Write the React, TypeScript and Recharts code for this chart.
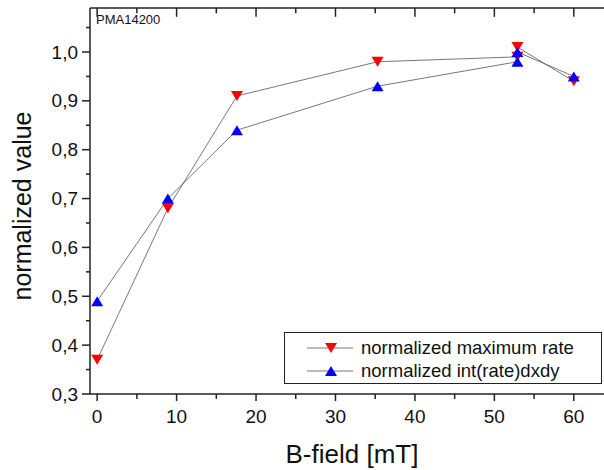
import { ScatterChart, Scatter, XAxis, YAxis, Legend, Customized, ReferenceLine } from "recharts";

const bField = [0, 8.9, 17.6, 35.3, 52.9, 52.9, 60];
const maxRate = [0.37, 0.68, 0.91, 0.98, 0.99, 1.01, 0.94];
const intRate = [0.49, 0.7, 0.84, 0.93, 0.98, 1.0, 0.95];

const xTicks = [0, 5, 10, 15, 20, 25, 30, 35, 40, 45, 50, 55, 60];
const xMajor = [0, 10, 20, 30, 40, 50, 60];
const yTicks = [0.3, 0.35, 0.4, 0.45, 0.5, 0.55, 0.6, 0.65, 0.7, 0.75, 0.8, 0.85, 0.9, 0.95, 1.0, 1.05];
const yMajor = [0.3, 0.4, 0.5, 0.6, 0.7, 0.8, 0.9, 1.0];

const maxData = bField.map((b, i) => ({ b, v: maxRate[i] }));
const intData = bField.map((b, i) => ({ b, v: intRate[i] }));

const FONT = "'Liberation Sans', Arial, sans-serif";
const AXIS = "#222";
const LINE = "#555";
const PLOT_TOP = 8;
const Y_MAX = 1.09;

const isMajor = (list: number[], v: number) => list.some((m) => Math.abs(m - v) < 1e-6);

const DownTri = (p: any) => {
  const { cx, cy } = p;
  if (cx == null || cy == null) return null;
  return <polygon points={`${cx - 6},${cy - 5} ${cx + 6},${cy - 5} ${cx},${cy + 5}`} fill="#ff0000" />;
};

const UpTri = (p: any) => {
  const { cx, cy } = p;
  if (cx == null || cy == null) return null;
  return <polygon points={`${cx - 6},${cy + 5} ${cx + 6},${cy + 5} ${cx},${cy - 5}`} fill="#0000ff" />;
};

const BottomTick = (p: any) => {
  const { x, y, payload } = p;
  const major = isMajor(xMajor, payload.value);
  return (
    <g>
      <line x1={x} x2={x} y1={y} y2={y + (major ? 7 : 5)} stroke={AXIS} strokeWidth={1.5} />
      {major && (
        <text x={x} y={y + 29} textAnchor="middle" fontSize={19} fontFamily={FONT} fill="#111">
          {payload.value}
        </text>
      )}
    </g>
  );
};

const LeftTick = (p: any) => {
  const { x, y, payload } = p;
  const major = isMajor(yMajor, payload.value);
  return (
    <g>
      <line x1={x - (major ? 8 : 4)} x2={x} y1={y} y2={y} stroke={AXIS} strokeWidth={1.5} />
      {major && (
        <text x={x - 12} y={y} dy="0.35em" textAnchor="end" fontSize={19} fontFamily={FONT} fill="#111">
          {payload.value.toFixed(1).replace(".", ",")}
        </text>
      )}
    </g>
  );
};

const LegendBox = () => (
  <div
    style={{
      width: 318,
      height: 52,
      border: "1px solid #222",
      background: "#fff",
      fontFamily: FONT,
      fontSize: 18.5,
      color: "#111",
      boxSizing: "border-box",
    }}
  >
    {[
      { label: "normalized maximum rate", Icon: DownTri },
      { label: "normalized int(rate)dxdy", Icon: UpTri },
    ].map(({ label, Icon }, i) => (
      <div key={label} style={{ display: "flex", alignItems: "center", height: 23, marginTop: i === 0 ? 3 : 0 }}>
        <svg width={76} height={22}>
          <line x1={22} x2={68} y1={11} y2={11} stroke={LINE} strokeWidth={0.8} />
          <Icon cx={46} cy={11} />
        </svg>
        <span>{label}</span>
      </div>
    ))}
  </div>
);

const Titles = () => (
  <g fontFamily={FONT} fill="#111">
    <text x={96} y={24} fontSize={13}>PMA14200</text>
    <text x={352} y={463} fontSize={26} textAnchor="middle">B-field [mT]</text>
    <text x={22} y={206} fontSize={25} textAnchor="middle" dy="0.35em" transform="rotate(-90 22 206)">
      normalized value
    </text>
  </g>
);

export default function App() {
  return (
    <div style={{ position: "absolute", left: 0, top: 0, background: "#fff" }}>
      <ScatterChart width={604} height={470} margin={{ top: PLOT_TOP, right: 0, left: 0, bottom: 0 }}>
        <XAxis
          dataKey="b"
          type="number"
          domain={[-0.9, 63.8]}
          ticks={xTicks}
          interval={0}
          height={76}
          tickSize={0}
          tickMargin={0}
          tickLine={false}
          axisLine={{ stroke: AXIS, strokeWidth: 1.5 }}
          tick={<BottomTick />}
          allowDataOverflow
        />
        <YAxis
          dataKey="v"
          type="number"
          domain={[0.3, Y_MAX]}
          ticks={yTicks}
          interval={0}
          width={90}
          tickSize={0}
          tickMargin={0}
          tickLine={false}
          axisLine={{ stroke: AXIS, strokeWidth: 1.5 }}
          tick={<LeftTick />}
          allowDataOverflow
        />
        <ReferenceLine y={Y_MAX} stroke={AXIS} strokeWidth={1.5} ifOverflow="visible" />
        {xTicks.map((t) => (
          <ReferenceLine
            key={t}
            segment={[
              { x: t, y: Y_MAX },
              { x: t, y: Y_MAX - (isMajor(xMajor, t) ? 0.018 : 0.011) },
            ]}
            stroke={AXIS}
            strokeWidth={1.5}
            ifOverflow="visible"
          />
        ))}
        <Scatter
          name="normalized maximum rate"
          data={maxData}
          line={{ stroke: LINE, strokeWidth: 0.8 }}
          lineType="joint"
          shape={<DownTri />}
          isAnimationActive={false}
        />
        <Scatter
          name="normalized int(rate)dxdy"
          data={intData}
          line={{ stroke: LINE, strokeWidth: 0.8 }}
          lineType="joint"
          shape={<UpTri />}
          isAnimationActive={false}
        />
        <Legend
          layout="horizontal"
          verticalAlign="middle"
          align="center"
          content={<LegendBox />}
          wrapperStyle={{ position: "absolute", left: 284, top: 332, width: 318, height: 52 }}
        />
        <Customized component={<Titles />} />
      </ScatterChart>
    </div>
  );
}
